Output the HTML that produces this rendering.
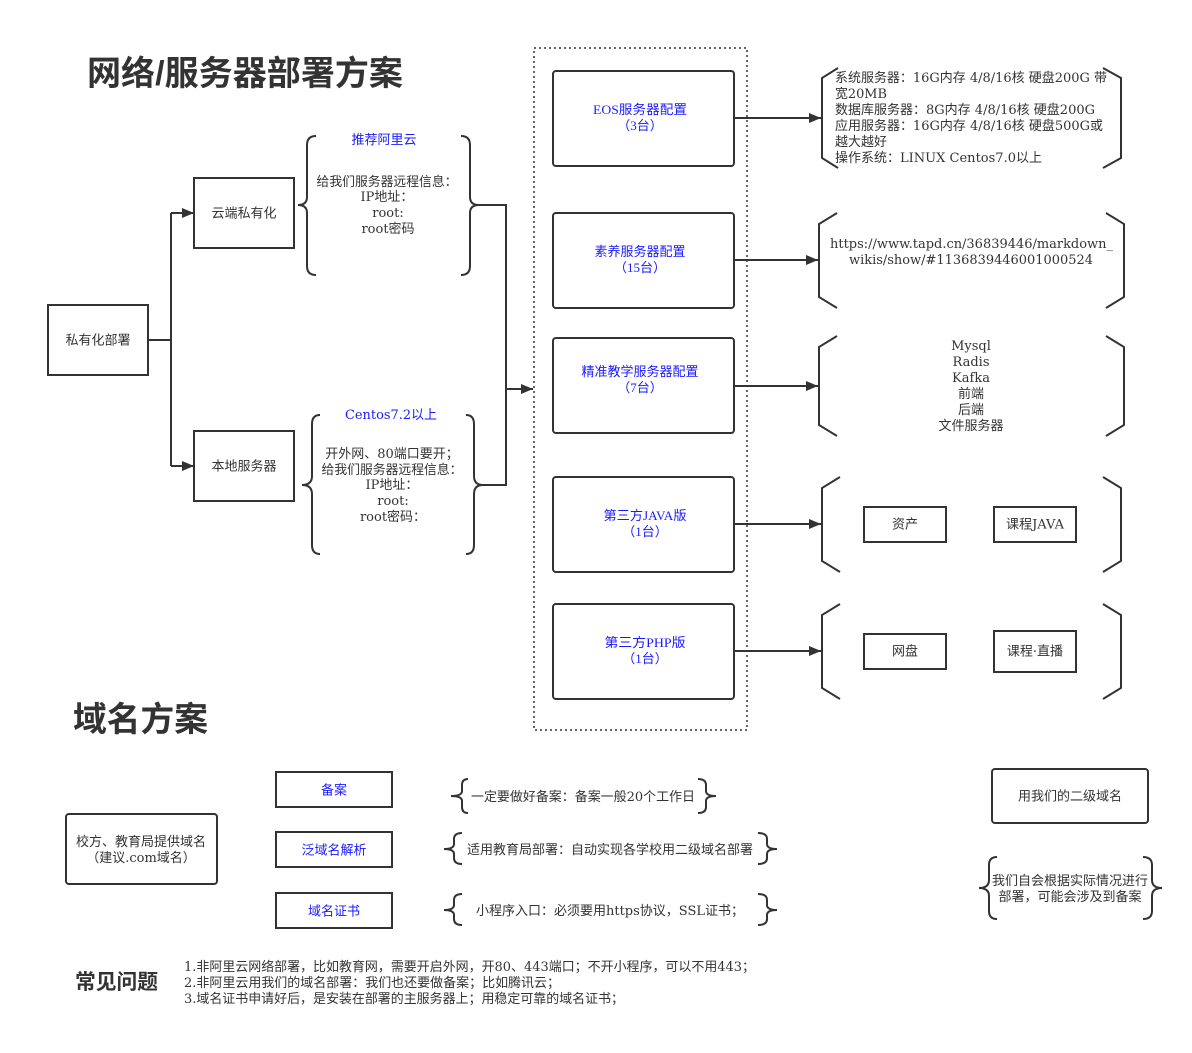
<!DOCTYPE html>
<html>
<head>
<meta charset="utf-8">
<style>
  html,body{margin:0;padding:0;background:#fff;}
  svg{display:block;}
  text{font-family:"DejaVu Serif","Noto Sans CJK SC",serif;font-size:13px;fill:#333;}
  .b{fill:#1a1aff;font-family:"Liberation Serif","Noto Sans CJK SC",serif;}
  .bd{fill:#1a1aff;}
  .t{font-family:"Liberation Sans","Noto Sans CJK SC",sans-serif;font-weight:bold;fill:#333;}
  .s{fill:none;stroke:#333;stroke-width:2;}
  .c{font-family:"Liberation Sans","Noto Sans CJK SC",sans-serif;}
</style>
</head>
<body>
<svg width="1192" height="1053" viewBox="0 0 1192 1053" xmlns="http://www.w3.org/2000/svg">
  <defs>
    <marker id="ah" markerWidth="12" markerHeight="10" refX="12" refY="5" orient="auto" markerUnits="userSpaceOnUse">
      <path d="M0,0 L12,5 L0,10 Z" fill="#333"/>
    </marker>
  </defs>
  <rect width="1192" height="1053" fill="#fff"/>

  <!-- Titles -->
  <text x="87" y="85" class="t" style="font-size:34px" textLength="316" lengthAdjust="spacingAndGlyphs">网络/服务器部署方案</text>
  <text x="73" y="731" class="t" style="font-size:34px" textLength="135" lengthAdjust="spacingAndGlyphs">域名方案</text>
  <text x="75" y="989" class="t" style="font-size:21px" textLength="83" lengthAdjust="spacingAndGlyphs">常见问题</text>

  <!-- Left tree -->
  <rect x="48" y="305" width="100" height="70" class="s"/>
  <text x="98" y="344.5" text-anchor="middle" class="c">私有化部署</text>
  <rect x="194" y="178" width="100" height="70" class="s"/>
  <text x="244" y="217.5" text-anchor="middle" class="c">云端私有化</text>
  <rect x="194" y="431" width="100" height="70" class="s"/>
  <text x="244" y="470.5" text-anchor="middle" class="c">本地服务器</text>

  <path d="M148,340 L171,340" class="s"/>
  <path d="M171,213 L171,466" class="s"/>
  <path d="M171,213 L194,213" class="s" marker-end="url(#ah)"/>
  <path d="M171,466 L194,466" class="s" marker-end="url(#ah)"/>

  <!-- Brace 1 -->
  <path d="M316,136 Q307,136 307,145 L307,197 Q307,205 298,205 Q307,205 307,213 L307,266 Q307,275 316,275" class="s"/>
  <path d="M461,136 Q470,136 470,145 L470,197 Q470,205 479,205 Q470,205 470,213 L470,266 Q470,275 461,275" class="s"/>
  <text x="384" y="144" text-anchor="middle" class="b" style="font-size:13px">推荐阿里云</text>
  <text x="387" y="186" text-anchor="middle" textLength="141" lengthAdjust="spacingAndGlyphs">给我们服务器远程信息：</text>
  <text x="387" y="201" text-anchor="middle">IP地址：</text>
  <text x="388" y="217" text-anchor="middle">root:</text>
  <text x="388" y="233" text-anchor="middle">root密码</text>

  <!-- Brace 2 -->
  <path d="M320,415 Q312,415 312,424 L312,476 Q312,485 302,485 Q312,485 312,494 L312,545 Q312,554 320,554" class="s"/>
  <path d="M466,415 Q474,415 474,424 L474,476 Q474,485 483,485 Q474,485 474,494 L474,545 Q474,554 466,554" class="s"/>
  <text x="391" y="419" text-anchor="middle" class="bd" textLength="92" lengthAdjust="spacingAndGlyphs">Centos7.2以上</text>
  <text x="392" y="458" text-anchor="middle">开外网、80端口要开；</text>
  <text x="392" y="474" text-anchor="middle" textLength="141" lengthAdjust="spacingAndGlyphs">给我们服务器远程信息：</text>
  <text x="392" y="489" text-anchor="middle">IP地址：</text>
  <text x="393" y="505" text-anchor="middle">root:</text>
  <text x="393" y="521" text-anchor="middle">root密码：</text>

  <!-- Merge connector -->
  <path d="M479,205 L506,205 L506,485 L483,485" class="s"/>
  <path d="M506,389 L533,389" class="s" marker-end="url(#ah)"/>

  <!-- Dotted container -->
  <rect x="534" y="48" width="213" height="682" fill="none" stroke="#333" stroke-width="1.5" stroke-dasharray="2,3"/>

  <!-- Server boxes -->
  <rect x="553" y="71" width="181" height="95" rx="3" class="s"/>
  <text x="640" y="114" text-anchor="middle" class="b" textLength="94" lengthAdjust="spacingAndGlyphs">EOS服务器配置</text>
  <text x="640" y="130" text-anchor="middle" class="b">（3台）</text>

  <rect x="553" y="213" width="181" height="95" rx="3" class="s"/>
  <text x="640" y="256" text-anchor="middle" class="b">素养服务器配置</text>
  <text x="640" y="272" text-anchor="middle" class="b">（15台）</text>

  <rect x="553" y="338" width="181" height="95" rx="3" class="s"/>
  <text x="640" y="376" text-anchor="middle" class="b">精准教学服务器配置</text>
  <text x="640" y="392" text-anchor="middle" class="b">（7台）</text>

  <rect x="553" y="477" width="181" height="95" rx="3" class="s"/>
  <text x="645" y="520" text-anchor="middle" class="b" textLength="83" lengthAdjust="spacingAndGlyphs">第三方JAVA版</text>
  <text x="645" y="536" text-anchor="middle" class="b">（1台）</text>

  <rect x="553" y="604" width="181" height="95" rx="3" class="s"/>
  <text x="645" y="647" text-anchor="middle" class="b" textLength="81" lengthAdjust="spacingAndGlyphs">第三方PHP版</text>
  <text x="645" y="663" text-anchor="middle" class="b">（1台）</text>

  <!-- Arrows to detail -->
  <path d="M734,118 L821,118" class="s" marker-end="url(#ah)"/>
  <path d="M734,260 L818,260" class="s" marker-end="url(#ah)"/>
  <path d="M734,386 L818,386" class="s" marker-end="url(#ah)"/>
  <path d="M734,524 L821,524" class="s" marker-end="url(#ah)"/>
  <path d="M734,651 L821,651" class="s" marker-end="url(#ah)"/>

  <!-- Detail brackets -->
  <path d="M838,68 L822,78 L822,158 L838,168" class="s"/>
  <path d="M1103,68 L1121,78 L1121,158 L1103,168" class="s"/>
  <text x="835" y="82" textLength="272" lengthAdjust="spacingAndGlyphs">系统服务器：16G内存 4/8/16核 硬盘200G 带</text>
  <text x="835" y="98" textLength="52" lengthAdjust="spacingAndGlyphs">宽20MB</text>
  <text x="835" y="114" textLength="260" lengthAdjust="spacingAndGlyphs">数据库服务器：8G内存 4/8/16核 硬盘200G</text>
  <text x="835" y="130" textLength="268" lengthAdjust="spacingAndGlyphs">应用服务器：16G内存 4/8/16核 硬盘500G或</text>
  <text x="835" y="146" textLength="52" lengthAdjust="spacingAndGlyphs">越大越好</text>
  <text x="835" y="162" textLength="207" lengthAdjust="spacingAndGlyphs">操作系统：LINUX Centos7.0以上</text>

  <path d="M837,213 L819,224 L819,297 L837,308" class="s"/>
  <path d="M1106,213 L1124,224 L1124,297 L1106,308" class="s"/>
  <text x="830" y="248" textLength="283" lengthAdjust="spacingAndGlyphs">https://www.tapd.cn/36839446/markdown_</text>
  <text x="849" y="264" textLength="244" lengthAdjust="spacingAndGlyphs">wikis/show/#1136839446001000524</text>

  <path d="M837,336 L819,347 L819,425 L837,436" class="s"/>
  <path d="M1106,336 L1124,347 L1124,425 L1106,436" class="s"/>
  <text x="971" y="350" text-anchor="middle">Mysql</text>
  <text x="971" y="366" text-anchor="middle">Radis</text>
  <text x="971" y="382" text-anchor="middle">Kafka</text>
  <text x="971" y="398" text-anchor="middle">前端</text>
  <text x="971" y="414" text-anchor="middle">后端</text>
  <text x="971" y="430" text-anchor="middle">文件服务器</text>

  <path d="M840,477 L822,488 L822,561 L840,572" class="s"/>
  <path d="M1103,477 L1121,488 L1121,561 L1103,572" class="s"/>
  <rect x="864" y="507" width="82" height="35" class="s"/>
  <text x="905" y="528.5" text-anchor="middle">资产</text>
  <rect x="994" y="507" width="82" height="35" class="s"/>
  <text x="1035" y="528.5" text-anchor="middle" textLength="58" lengthAdjust="spacingAndGlyphs">课程JAVA</text>

  <path d="M840,604 L822,615 L822,688 L840,699" class="s"/>
  <path d="M1103,604 L1121,615 L1121,688 L1103,699" class="s"/>
  <rect x="864" y="634" width="82" height="35" class="s"/>
  <text x="905" y="655.5" text-anchor="middle">网盘</text>
  <rect x="994" y="631" width="82" height="41" class="s"/>
  <text x="1035" y="655.5" text-anchor="middle">课程·直播</text>

  <!-- Domain section -->
  <rect x="66" y="814" width="151" height="70" rx="3" class="s"/>
  <text x="141" y="846" text-anchor="middle">校方、教育局提供域名</text>
  <text x="141" y="862" text-anchor="middle">（建议.com域名）</text>

  <rect x="276" y="772" width="116" height="35" class="s"/>
  <text x="334" y="794.5" text-anchor="middle" class="b">备案</text>
  <rect x="276" y="832" width="116" height="35" class="s"/>
  <text x="334" y="854.5" text-anchor="middle" class="b">泛域名解析</text>
  <rect x="276" y="893" width="116" height="35" class="s"/>
  <text x="334" y="915.5" text-anchor="middle" class="b">域名证书</text>

  <path d="M468,779 Q462,779 462,785 L462,791 Q462,796 451,796 Q462,796 462,801 L462,807 Q462,813 468,813" class="s"/>
  <path d="M698,779 Q706,779 706,785 L706,791 Q706,796 716,796 Q706,796 706,801 L706,807 Q706,813 698,813" class="s"/>
  <text x="471" y="801" textLength="224" lengthAdjust="spacingAndGlyphs">一定要做好备案：备案一般20个工作日</text>

  <path d="M462,833 Q454,833 454,839 L454,844 Q454,849 444,849 Q454,849 454,854 L454,858 Q454,864 462,864" class="s"/>
  <path d="M758,833 Q767,833 767,839 L767,844 Q767,849 777,849 Q767,849 767,854 L767,858 Q767,864 758,864" class="s"/>
  <text x="467" y="854" textLength="286" lengthAdjust="spacingAndGlyphs">适用教育局部署：自动实现各学校用二级域名部署</text>

  <path d="M462,894 Q454,894 454,900 L454,905 Q454,910 444,910 Q454,910 454,915 L454,919 Q454,925 462,925" class="s"/>
  <path d="M758,894 Q767,894 767,900 L767,905 Q767,910 777,910 Q767,910 767,915 L767,919 Q767,925 758,925" class="s"/>
  <text x="476" y="915" textLength="268" lengthAdjust="spacingAndGlyphs">小程序入口：必须要用https协议，SSL证书；</text>

  <rect x="992" y="769" width="156" height="54" rx="3" class="s"/>
  <text x="1070" y="800.5" text-anchor="middle">用我们的二级域名</text>

  <path d="M997,857 Q989,857 989,865 L989,880 Q989,888 979,888 Q989,888 989,896 L989,911 Q989,919 997,919" class="s"/>
  <path d="M1143,857 Q1152,857 1152,865 L1152,880 Q1152,888 1162,888 Q1152,888 1152,896 L1152,911 Q1152,919 1143,919" class="s"/>
  <text x="1070" y="885" text-anchor="middle" class="c">我们自会根据实际情况进行</text>
  <text x="1070" y="901" text-anchor="middle" class="c">部署，可能会涉及到备案</text>

  <!-- FAQ -->
  <text x="184" y="971" textLength="571" lengthAdjust="spacingAndGlyphs">1.非阿里云网络部署，比如教育网，需要开启外网，开80、443端口；不开小程序，可以不用443；</text>
  <text x="184" y="987" textLength="376" lengthAdjust="spacingAndGlyphs">2.非阿里云用我们的域名部署：我们也还要做备案；比如腾讯云；</text>
  <text x="184" y="1003" textLength="440" lengthAdjust="spacingAndGlyphs">3.域名证书申请好后，是安装在部署的主服务器上；用稳定可靠的域名证书；</text>
</svg>
</body>
</html>
